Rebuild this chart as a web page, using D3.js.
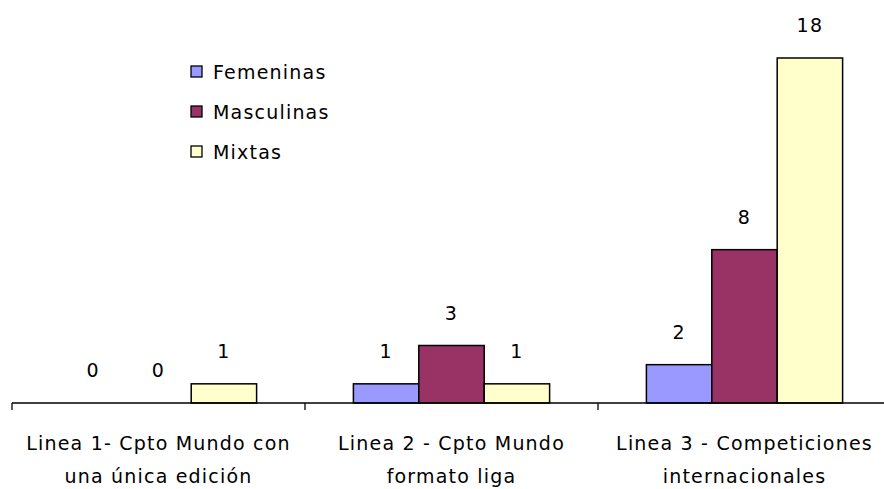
<!DOCTYPE html>
<html>
<head>
<meta charset="utf-8">
<script src="https://cdn.jsdelivr.net/npm/d3@7"></script>
<style>
  body { margin: 0; background: #fff; }
  text { font-family: "DejaVu Sans", sans-serif; fill: #000; font-size: 19px; letter-spacing: 1.2px; }
</style>
</head>
<body>
<div id="chart"></div>
<script>
// categorias (dos lineas cada una)
var categorias = ["Linea 1", "Linea 2", "Linea 3"];
var etiquetas = [
  ["Linea 1- Cpto Mundo con", "una única edición"],
  ["Linea 2 - Cpto Mundo", "formato liga"],
  ["Linea 3 - Competiciones", "internacionales"]
];
var series = ["Femeninas", "Masculinas", "Mixtas"];
var femeninas = [0, 1, 2];
var masculinas = [0, 3, 8];
var mixtas = [1, 1, 18];
var colores = ["#9999FF", "#993366", "#FFFFCC"];

var valores = [femeninas, masculinas, mixtas];

var width = 884, height = 489;
var svg = d3.select("#chart").append("svg")
  .attr("width", width)
  .attr("height", height);

var x0 = d3.scaleBand()
  .domain(categorias)
  .range([12, 891])
  .paddingInner(0);

var x1 = d3.scaleBand()
  .domain(series)
  .range([0, x0.bandwidth()])
  .paddingInner(0)
  .paddingOuter(0.74);

var y = d3.scaleLinear()
  .domain([0, 18])
  .range([403, 58]);

var color = d3.scaleOrdinal().domain(series).range(colores);

function datosGrupo(c, i) {
  return series.map(function(s, j) { return {serie: s, valor: valores[j][i]}; });
}

// barras
var grupos = svg.selectAll(".grupo")
  .data(categorias)
  .enter().append("g")
  .attr("class", "grupo")
  .attr("transform", function(d) { return "translate(" + x0(d) + ",0)"; });

grupos.selectAll("rect")
  .data(function(c, i) { return datosGrupo(c, i).filter(function(d) { return d.valor > 0; }); })
  .enter().append("rect")
  .attr("x", function(d) { return x1(d.serie); })
  .attr("y", function(d) { return y(d.valor); })
  .attr("width", x1.bandwidth())
  .attr("height", function(d) { return y(0) - y(d.valor); })
  .attr("fill", function(d) { return color(d.serie); })
  .attr("stroke", "#000")
  .attr("stroke-width", 1.5);

grupos.selectAll(".valor")
  .data(datosGrupo)
  .enter().append("text")
  .attr("class", "valor")
  .attr("x", function(d) { return x1(d.serie) + x1.bandwidth() / 2; })
  .attr("y", function(d) { return y(d.valor) - 26; })
  .attr("text-anchor", "middle")
  .text(function(d) { return d.valor; });

// eje x
var eje = svg.append("g");
eje.append("line")
  .attr("x1", 12).attr("x2", width)
  .attr("y1", y(0)).attr("y2", y(0))
  .attr("stroke", "#000").attr("stroke-width", 1.3);

var bordes = categorias.map(function(c) { return x0(c); }).concat([x0.range()[1]]);
eje.selectAll(".tick")
  .data(bordes)
  .enter().append("line")
  .attr("x1", function(d) { return d; }).attr("x2", function(d) { return d; })
  .attr("y1", y(0)).attr("y2", y(0) + 7)
  .attr("stroke", "#000").attr("stroke-width", 1.3);

eje.selectAll(".cat")
  .data(categorias)
  .enter().append("text")
  .attr("class", "cat")
  .attr("text-anchor", "middle")
  .attr("x", function(d) { return x0(d) + x0.bandwidth() / 2; })
  .attr("y", 450)
  .selectAll("tspan")
  .data(function(d, i) { return etiquetas[i]; })
  .enter().append("tspan")
  .attr("x", function() { var c = d3.select(this.parentNode).datum(); return x0(c) + x0.bandwidth() / 2; })
  .attr("dy", function(d, i) { return i === 0 ? 0 : 33; })
  .text(function(d) { return d; });

// leyenda
var leyenda = svg.selectAll(".leyenda")
  .data(series)
  .enter().append("g")
  .attr("class", "leyenda")
  .attr("transform", function(d, i) { return "translate(191," + (66 + i * 40) + ")"; });

leyenda.append("rect")
  .attr("width", 11).attr("height", 11)
  .attr("fill", function(d) { return color(d); })
  .attr("stroke", "#000").attr("stroke-width", 1.3);

leyenda.append("text")
  .attr("x", 22).attr("y", 13)
  .text(function(d) { return d; });
</script>
</body>
</html>
